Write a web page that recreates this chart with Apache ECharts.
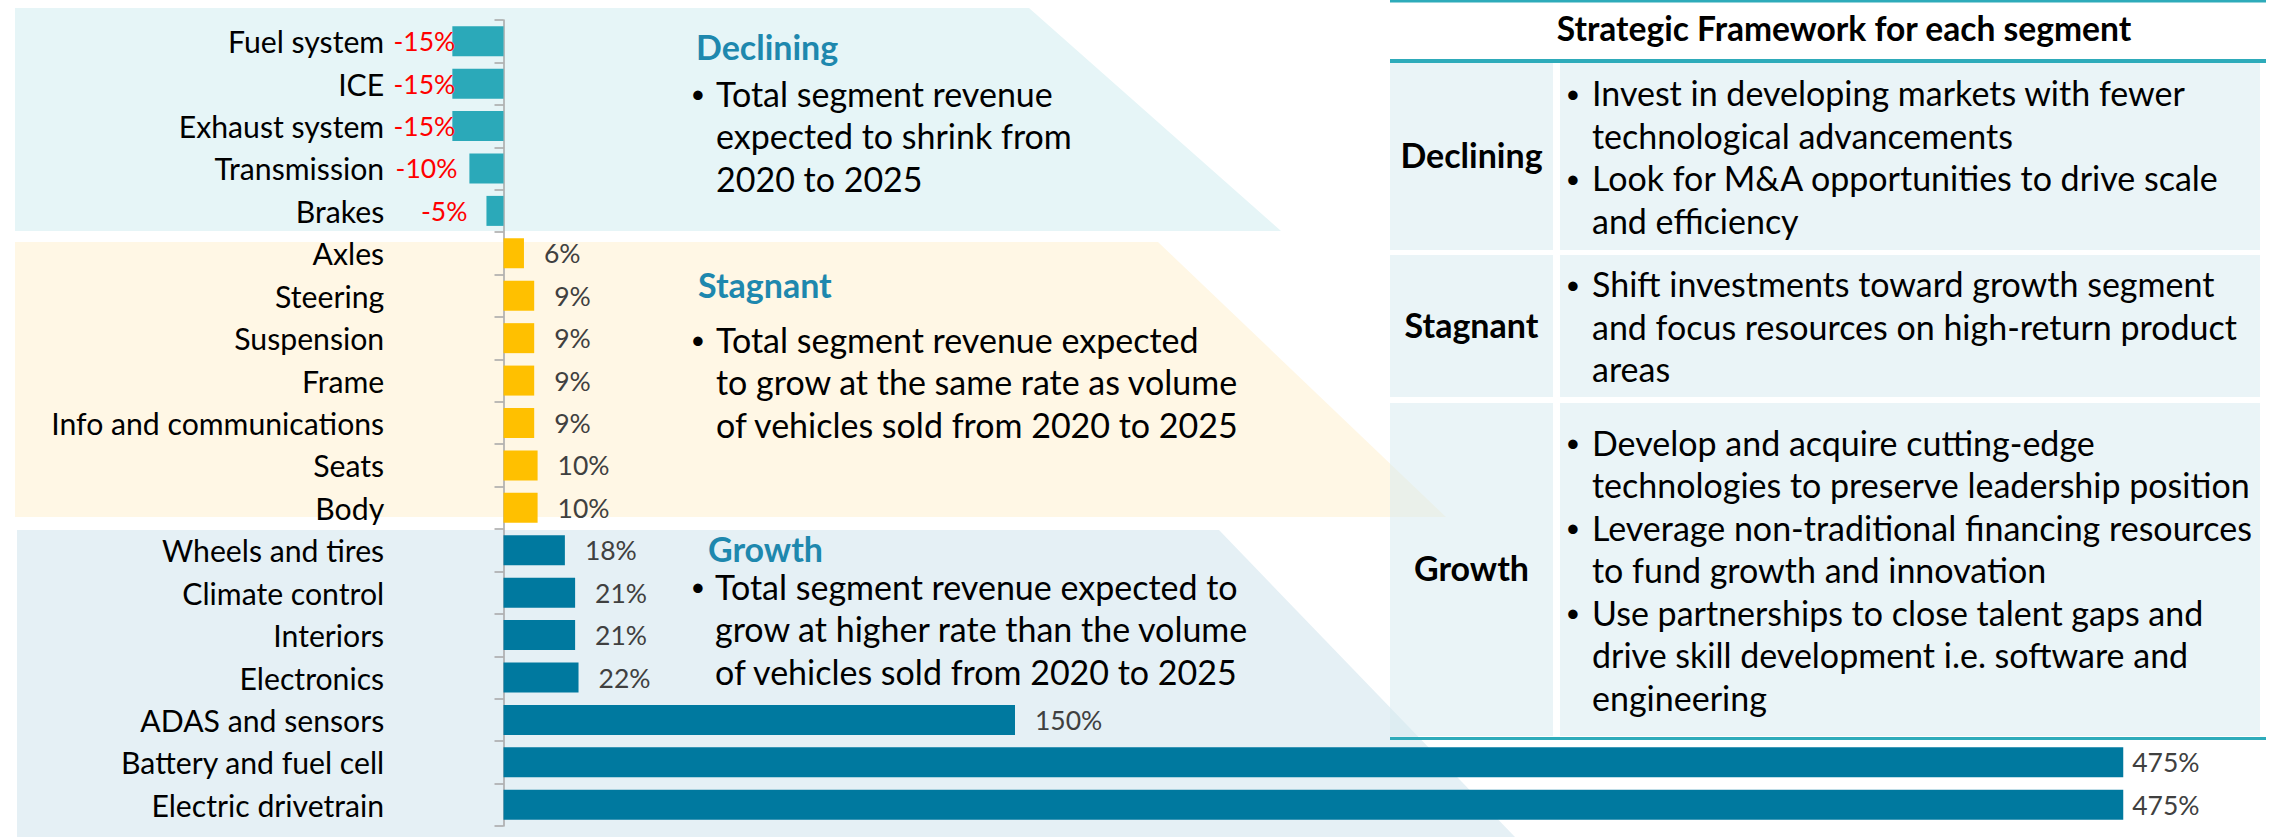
<!DOCTYPE html>
<html>
<head>
<meta charset="utf-8">
<script src="https://cdn.jsdelivr.net/npm/echarts@6/dist/echarts.min.js"></script>
<style>
html,body{margin:0;padding:0;background:#ffffff;}
#chart{width:2275px;height:837px;}
</style>
</head>
<body>
<div id="chart"></div>
<script>
// ---------------- DATA ----------------
const decliningCategories = ['Fuel system', 'ICE', 'Exhaust system', 'Transmission', 'Brakes'];
const decliningValues = [-15, -15, -15, -10, -5];
const stagnantCategories = ['Axles', 'Steering', 'Suspension', 'Frame', 'Info and communications', 'Seats', 'Body'];
const stagnantValues = [6, 9, 9, 9, 9, 10, 10];
const growthCategories = ['Wheels and tires', 'Climate control', 'Interiors', 'Electronics', 'ADAS and sensors', 'Battery and fuel cell', 'Electric drivetrain'];
const growthValues = [18, 21, 21, 22, 150, 475, 475];

const decliningNote = ['Total segment revenue', 'expected to shrink from', '2020 to 2025'];
const stagnantNote = ['Total segment revenue expected', 'to grow at the same rate as volume', 'of vehicles sold from 2020 to 2025'];
const growthNote = ['Total segment revenue expected to', 'grow at higher rate than the volume', 'of vehicles sold from 2020 to 2025'];

const frameworkTitle = 'Strategic Framework for each segment';
const frameworkDeclining = [
  ['Invest in developing markets with fewer', 'technological advancements'],
  ['Look for M&A opportunities to drive scale', 'and efficiency']
];
const frameworkStagnant = [
  ['Shift investments toward growth segment', 'and focus resources on high-return product', 'areas']
];
const frameworkGrowth = [
  ['Develop and acquire cutting-edge', 'technologies to preserve leadership position'],
  ['Leverage non-traditional financing resources', 'to fund growth and innovation'],
  ['Use partnerships to close talent gaps and', 'drive skill development i.e. software and', 'engineering']
];

// ---------------- STYLE ----------------
const FONT = 'Lato';
const measureCtx = document.createElement('canvas').getContext('2d');
measureCtx.font = '100px ' + FONT;
// size factor so that the substitute font matches the original text widths
const fk = (337 / measureCtx.measureText('Total segment revenue').width) * 100 / 36;
const fs = s => Math.round(s * fk * 10) / 10;

const barColors = { Declining: '#2BA9B9', Stagnant: '#FFC000', Growth: '#00799F' };
const headColor = '#1E88AE';
const tealLine = '#2EABBA';
const labelGap = { 'Fuel system': -3, 'ICE': -3, 'Exhaust system': -3, 'Transmission': 12, 'Brakes': 19,
                   'Battery and fuel cell': 9, 'Electric drivetrain': 9 };

// ---------------- BUILD ----------------
const categories = decliningCategories.concat(stagnantCategories, growthCategories);
const seriesData = [];
function addGroup(cats, vals, seg) {
  vals.forEach((v, i) => {
    const neg = v < 0;
    const gap = labelGap[cats[i]] !== undefined ? labelGap[cats[i]] : 20;
    seriesData.push({
      value: v,
      itemStyle: { color: barColors[seg] },
      label: {
        position: neg ? 'left' : 'right',
        distance: gap,
        color: neg ? '#FF0000' : '#404040'
      }
    });
  });
}
addGroup(decliningCategories, decliningValues, 'Declining');
addGroup(stagnantCategories, stagnantValues, 'Stagnant');
addGroup(growthCategories, growthValues, 'Growth');

const graphics = [];
// background bands
graphics.push({ type: 'polygon', z: -20, shape: { points: [[15, 8], [1029, 8], [1281, 231], [15, 231]] }, style: { fill: '#E6F5F7' } });
graphics.push({ type: 'polygon', z: -20, shape: { points: [[15, 242], [1158, 242], [1446, 517], [15, 517]] }, style: { fill: '#FFF7E5' } });
graphics.push({ type: 'polygon', z: -20, shape: { points: [[17, 530], [1219, 530], [1515, 837], [17, 837]] }, style: { fill: '#E5F0F5' } });

function txt(x, y, text, opt) {
  opt = opt || {};
  graphics.push({
    type: 'text', z: 20,
    style: {
      text: text, x: x, y: y,
      fill: opt.color || '#000000',
      fontFamily: FONT,
      fontSize: opt.size || fs(36),
      fontWeight: opt.bold ? 'bold' : 'normal',
      textAlign: opt.align || 'left',
      textVerticalAlign: 'middle'
    }
  });
}
function bullet(cx, y) {
  txt(cx, y, '•', { align: 'center', size: fs(27) });
}
const LH = 42.5;
function note(headX, headY, bulletX, textX, firstY, lines, head) {
  txt(headX, headY, head, { bold: true, color: headColor });
  bullet(bulletX, firstY);
  lines.forEach((l, i) => txt(textX, firstY + i * LH, l));
}
note(696, 46, 698, 716, 93, decliningNote, 'Declining');
note(698, 284, 698, 716, 339, stagnantNote, 'Stagnant');
note(708, 548, 698, 715, 586, growthNote, 'Growth');

// framework table
const tL = 1390, tR = 2266, c1R = 1553, c2L = 1560, cR = 2260;
graphics.push({ type: 'rect', z: -10, shape: { x: tL, y: 0, width: tR - tL, height: 2.5 }, style: { fill: tealLine } });
txt(1844, 28, frameworkTitle, { bold: true, size: fs(35.5), align: 'center' });
graphics.push({ type: 'rect', z: -10, shape: { x: tL, y: 59, width: tR - tL, height: 4 }, style: { fill: tealLine } });
const rows = [
  { name: 'Declining', top: 63, bottom: 250, bullets: frameworkDeclining },
  { name: 'Stagnant', top: 255, bottom: 397, bullets: frameworkStagnant },
  { name: 'Growth', top: 403, bottom: 736, bullets: frameworkGrowth }
];
rows.forEach(r => {
  graphics.push({ type: 'rect', z: -10, shape: { x: tL, y: r.top, width: c1R - tL, height: r.bottom - r.top }, style: { fill: 'rgba(214,233,240,0.5)' } });
  graphics.push({ type: 'rect', z: -10, shape: { x: c2L, y: r.top, width: cR - c2L, height: r.bottom - r.top }, style: { fill: 'rgba(214,233,240,0.5)' } });
  const mid = (r.top + r.bottom) / 2;
  txt((tL + c1R) / 2, mid - 2, r.name, { bold: true, align: 'center' });
  let n = 0;
  r.bullets.forEach(b => n += b.length);
  let y = mid - (n - 1) * LH / 2;
  r.bullets.forEach(b => {
    bullet(1573, y);
    b.forEach(l => { txt(1592, y, l); y += LH; });
  });
});
graphics.push({ type: 'rect', z: -10, shape: { x: tL, y: 737, width: tR - tL, height: 3 }, style: { fill: tealLine } });

// ---------------- CHART ----------------
const chart = echarts.init(document.getElementById('chart'), null, { renderer: 'svg' });
chart.setOption({
  backgroundColor: '#ffffff',
  animation: false,
  grid: { left: 401.2, right: 66.5, top: 20, bottom: 11, containLabel: false, outerBoundsMode: 'none' },
  xAxis: {
    type: 'value', min: -30, max: 500, show: false,
    splitLine: { show: false }
  },
  yAxis: [
    {
      type: 'category', data: categories, inverse: true, position: 'left',
      axisLine: { show: false, onZero: false },
      axisTick: { show: false },
      axisLabel: { interval: 0, margin: 17, color: '#000000', fontFamily: FONT, fontSize: fs(32) },
      splitLine: { show: false }
    },
    {
      type: 'category', data: categories, inverse: true, position: 'left',
      axisLine: { show: true, onZero: true, lineStyle: { color: '#A6A6A6', width: 1.5 } },
      axisTick: { show: true, length: 9, lineStyle: { color: '#A6A6A6', width: 1.5 } },
      axisLabel: { show: false },
      splitLine: { show: false }
    }
  ],
  series: [{
    type: 'bar',
    xAxisIndex: 0, yAxisIndex: 0,
    data: seriesData,
    barWidth: 30,
    label: {
      show: true,
      fontFamily: FONT,
      fontSize: fs(28),
      formatter: p => p.value + '%'
    }
  }],
  graphic: { elements: graphics }
});
</script>
</body>
</html>
